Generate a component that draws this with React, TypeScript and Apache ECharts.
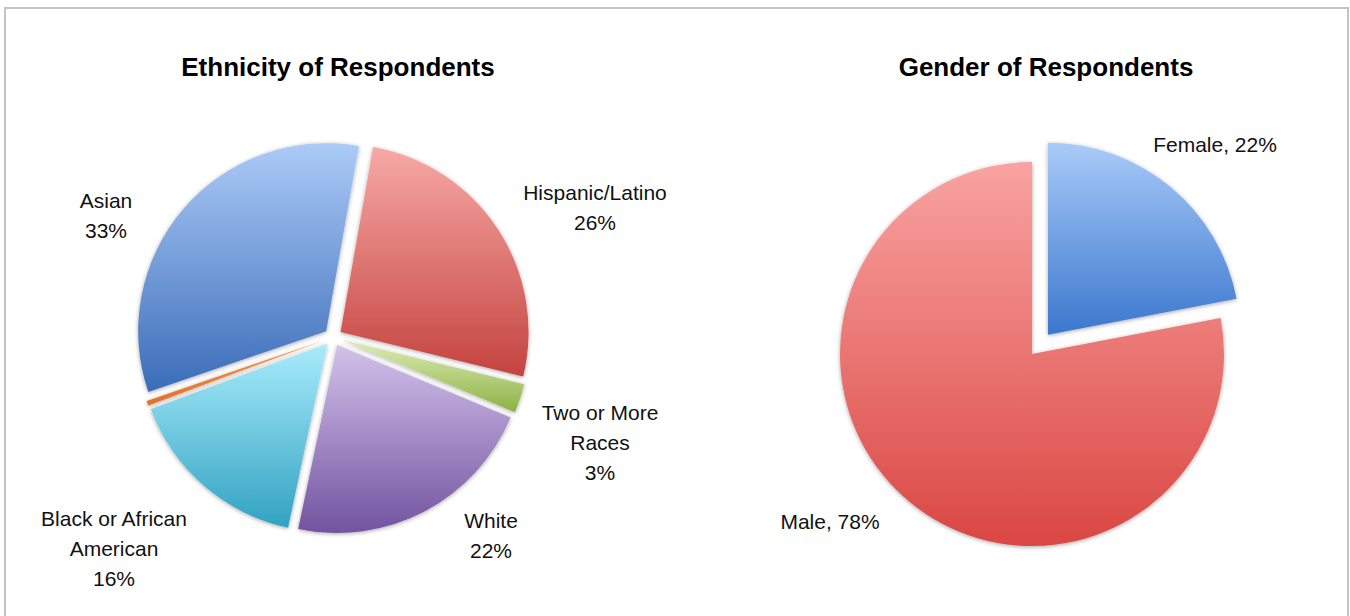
import React, { useEffect, useRef } from "react";
import * as echarts from "echarts";

// ---------- data ----------
const ethnicityCategories = [
  "Hispanic/Latino",
  "Two or More\nRaces",
  "White",
  "Black or African\nAmerican",
  "Other",
  "Asian",
];
const ethnicityValues = [26, 2.5, 22, 16, 0.4, 33];
const ethnicityLabelShown = [true, true, true, true, false, true];

const genderCategories = ["Female", "Male"];
const genderValues = [22, 78];

// ---------- styles / layout ----------
const ETH_COLORS = [
  ["#F7A9A6", "#C4433F"],
  ["#DDEDB5", "#8CB245"],
  ["#D3C2EA", "#7253A0"],
  ["#A9ECFB", "#32A2C2"],
  ["#F59A50", "#E0702A"],
  ["#ACCBF7", "#3A6CB8"],
];
const GEN_COLORS = [
  ["#A9CBF8", "#3B77CE"],
  ["#F9A3A1", "#DA4743"],
];

const ETH_CENTER = [333, 337];
const ETH_RADIUS = 188;
const GEN_CENTER = [1032, 354];
const GEN_RADIUS = 192;

// label centres relative to pie centre
const ETH_LABEL_OFFSETS = [
  [262, -130],
  [267, 105],
  [158, 198],
  [-219, 211],
  [0, 0],
  [-227, -122],
];
const GEN_LABEL_OFFSETS = [
  [183, -210],
  [-202, 167],
];

const LABEL_FONT = '"Liberation Sans", Arial, sans-serif';
const TITLE_FONT = '"Liberation Sans", Arial, sans-serif';

const grad = (c: string[]) =>
  new echarts.graphic.LinearGradient(0, 0, 0, 1, [
    { offset: 0, color: c[0] },
    { offset: 1, color: c[1] },
  ]);

export default function App() {
  const ref = useRef<HTMLDivElement>(null);

  useEffect(() => {
    if (!ref.current) return;
    const chart = echarts.init(ref.current, null, { renderer: "svg" });

    const sliceStyle = {
      shadowBlur: 4,
      shadowColor: "rgba(0,0,0,0.35)",
      shadowOffsetX: 0,
      shadowOffsetY: 1,
      borderWidth: 0,
    };

    const labelBase = {
      show: true,
      position: "outside" as const,
      fontFamily: LABEL_FONT,
      fontSize: 21,
      lineHeight: 30,
      color: "#111",
      align: "center" as const,
    };

    const pieBase = {
      type: "pie" as const,
      clockwise: true,
      avoidLabelOverlap: false,
      minShowLabelAngle: 0,
      emphasis: { disabled: true },
      labelLine: { show: false },
    };

    const makeLayout = (center: number[], offsets: number[][]) => (p: any) => {
      const o = offsets[p.dataIndex];
      return {
        x: center[0] + o[0],
        y: center[1] + o[1],
        align: "center",
        verticalAlign: "middle",
      };
    };

    const clear = { color: "rgba(0,0,0,0)", borderWidth: 0 };

    chart.setOption({
      animation: false,
      backgroundColor: "#ffffff",
      graphic: [
        {
          type: "rect",
          shape: { x: 5, y: 8, width: 1343, height: 640 },
          style: { fill: "none", stroke: "#C4C4C4", lineWidth: 2 },
          silent: true,
        },
        {
          type: "text",
          x: 338,
          y: 67,
          style: {
            text: "Ethnicity of Respondents",
            font: `bold 26px ${TITLE_FONT}`,
            fill: "#000",
            textAlign: "center",
            textVerticalAlign: "middle",
          },
        },
        {
          type: "text",
          x: 1046,
          y: 67,
          style: {
            text: "Gender of Respondents",
            font: `bold 26px ${TITLE_FONT}`,
            fill: "#000",
            textAlign: "center",
            textVerticalAlign: "middle",
          },
        },
      ],
      series: [
        // Ethnicity slices (exploded)
        {
          ...pieBase,
          center: ETH_CENTER,
          radius: ETH_RADIUS,
          startAngle: 80,
          selectedMode: "multiple",
          selectedOffset: 9,
          label: { show: false },
          data: ethnicityCategories.map((name, i) => ({
            name,
            value: ethnicityValues[i],
            selected: true,
            itemStyle: { ...sliceStyle, color: grad(ETH_COLORS[i]) },
          })),
        },
        // Ethnicity labels
        {
          ...pieBase,
          silent: true,
          center: ETH_CENTER,
          radius: ETH_RADIUS,
          startAngle: 80,
          selectedMode: false,
          label: {
            ...labelBase,
            formatter: (p: any) => `${p.name}\n${Math.round(p.percent)}%`,
          },
          labelLayout: makeLayout(ETH_CENTER, ETH_LABEL_OFFSETS),
          data: ethnicityCategories.map((name, i) => ({
            name,
            value: ethnicityValues[i],
            itemStyle: clear,
            label: { show: ethnicityLabelShown[i] },
          })),
        },
        // Gender slices
        {
          ...pieBase,
          center: GEN_CENTER,
          radius: GEN_RADIUS,
          startAngle: 90,
          selectedMode: "multiple",
          selectedOffset: 25,
          label: { show: false },
          data: genderCategories.map((name, i) => ({
            name,
            value: genderValues[i],
            selected: i === 0,
            itemStyle: { ...sliceStyle, color: grad(GEN_COLORS[i]) },
          })),
        },
        // Gender labels
        {
          ...pieBase,
          silent: true,
          center: GEN_CENTER,
          radius: GEN_RADIUS,
          startAngle: 90,
          selectedMode: false,
          label: {
            ...labelBase,
            formatter: (p: any) => `${p.name}, ${Math.round(p.percent)}%`,
          },
          labelLayout: makeLayout(GEN_CENTER, GEN_LABEL_OFFSETS),
          data: genderCategories.map((name, i) => ({
            name,
            value: genderValues[i],
            itemStyle: clear,
          })),
        },
      ],
    });

    return () => chart.dispose();
  }, []);

  return (
    <div
      ref={ref}
      style={{ position: "absolute", left: 0, top: 0, width: 1350, height: 616 }}
    />
  );
}
